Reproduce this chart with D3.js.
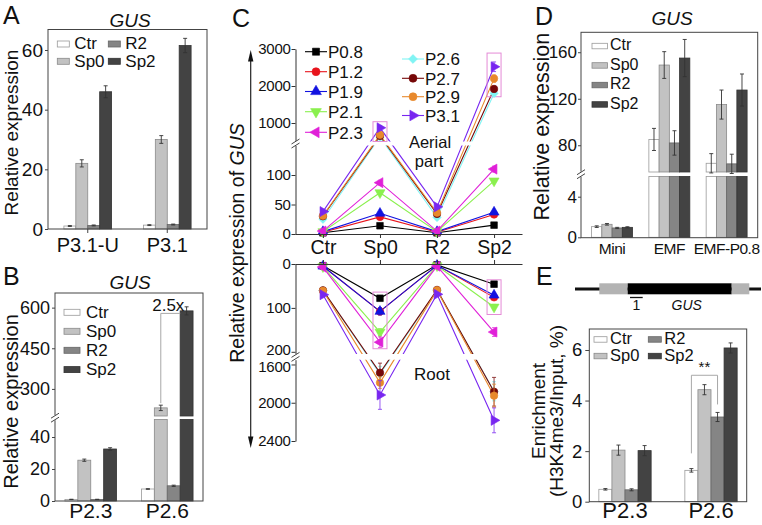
<!DOCTYPE html>
<html><head><meta charset="utf-8">
<script src="https://cdn.jsdelivr.net/npm/d3@7"></script>
<style>body{margin:0;background:#fff}svg{display:block}</style>
</head><body>
<svg id="c" width="762" height="525"></svg>
<script>
// ---------------- DATA ----------------
const series4 = ["Ctr", "Sp0", "R2", "Sp2"];
// Panel A
const aGroups = ["P3.1-U", "P3.1"];
const aValues = [[1.0, 22, 1.2, 46], [1.3, 30, 1.5, 61.5]];
const aErrors = [[0.15, 1.2, 0.15, 2.0], [0.15, 1.3, 0.15, 2.4]];
const aTicks = [0, 20, 40, 60];
// Panel B
const bGroups = ["P2.3", "P2.6"];
const bValues = [[1.0, 25.5, 1.0, 32.5], [7.5, 230, 9.5, 588]];
const bErrors = [[0.1, 0.7, 0.1, 0.8], [0.2, 10, 0.4, 15]];
const bTicksLow = [0, 20, 40];
const bTicksHigh = [300, 450, 600];
const bFold = "2.5x";
// Panel C
const cCats = ["Ctr", "Sp0", "R2", "Sp2"];
const cSeries = ["P0.8", "P1.2", "P1.9", "P2.1", "P2.3", "P2.6", "P2.7", "P2.9", "P3.1"];
const cAerial = [
  [2, 14, 2, 15], [3, 29, 3, 33], [4, 35, 4, 37], [4, 70, 4, 90], [5, 87, 5, 110],
  [25, 620, 28, 1800], [30, 650, 34, 1920], [31, 680, 36, 2200], [38, 870, 46, 2520]];
const cAerialErr = [
  [0.3, 1, 0.3, 1.2], [0.4, 2, 0.3, 2], [0.5, 2.5, 0.4, 2.5], [0.5, 3, 0.4, 3], [0.6, 4, 0.5, 5],
  [2, 40, 2, 80], [2, 40, 2, 80], [2, 45, 2, 100], [2, 60, 3, 130]];
const cRoot = [
  [4, 78, 2, 46], [5, 108, 3, 76], [5, 108, 3, 71], [6, 155, 4, 98], [7, 178, 5, 155],
  [60, 1700, 60, 1880], [60, 1686, 59, 1885], [61, 1790, 60, 1926], [70, 1919, 69, 2184]];
const cRootErr = [
  [0.5, 4, 0.3, 3], [0.5, 8, 0.4, 5], [0.5, 8, 0.4, 5], [0.6, 8, 0.5, 6], [0.8, 12, 0.6, 10],
  [3, 80, 3, 100], [3, 100, 3, 150], [3, 60, 3, 120], [3, 150, 3, 130]];
const cAerialTicksLow = [0, 50, 100];
const cAerialTicksHigh = [1000, 2000, 3000];
const cRootTicksLow = [0, 100, 200];
const cRootTicksHigh = [1600, 2000, 2400];
const cBoxes = [
  {part: "aerial", cat: "Sp0", lo: 500, hi: 1035},
  {part: "aerial", cat: "Sp2", lo: 1710, hi: 2890},
  {part: "root", cat: "Sp0", lo: 64, hi: 193},
  {part: "root", cat: "Sp2", lo: 36, hi: 115}];
// Panel D
const dGroups = ["Mini", "EMF", "EMF-P0.8"];
const dValues = [[1.05, 1.28, 0.92, 0.98], [85, 149, 82, 155], [64.5, 115, 64, 127.5]];
const dErrors = [[0.08, 0.08, 0.06, 0.06], [9.5, 11.5, 10.5, 16], [8.3, 12.5, 8.3, 13.8]];
const dTicksLow = [0, 4];
const dTicksHigh = [80, 120, 160];
// Panel E
const eGroups = ["P2.3", "P2.6"];
const eValues = [[0.49, 2.04, 0.47, 2.02], [1.24, 4.43, 3.35, 6.08]];
const eErrors = [[0.03, 0.2, 0.04, 0.2], [0.07, 0.2, 0.18, 0.2]];
const eTicks = [0, 2, 4, 6];
const eSig = {group: "P2.6", from: "Ctr", to: "R2", level: 5.0, label: "**"};

// ---------------- STYLE ----------------
const FONT = '"Liberation Sans", Arial, Helvetica, sans-serif';
const fmt = d3.format("d");
const barFill = {Ctr: "#ffffff", Sp0: "#c2c2c2", R2: "#858585", Sp2: "#434343"};
const barStroke = {Ctr: "#9a9a9a", Sp0: "#8a8a8a", R2: "#666", Sp2: "#333"};
const cColor = {"P0.8": "#000000", "P1.2": "#e8141c", "P1.9": "#1212e0", "P2.1": "#8af04e", "P2.3": "#e020d8",
  "P2.6": "#80f4f4", "P2.7": "#760808", "P2.9": "#e8892c", "P3.1": "#7826f0"};
const cSym = {"P0.8": [d3.symbolSquare, 0], "P1.2": [d3.symbolCircle, 0], "P1.9": [d3.symbolTriangle, 0],
  "P2.1": [d3.symbolTriangle, 180], "P2.3": [d3.symbolTriangle, -90], "P2.6": [d3.symbolDiamond2, 0],
  "P2.7": [d3.symbolCircle, 0], "P2.9": [d3.symbolCircle, 0], "P3.1": [d3.symbolTriangle, 90]};

const svg = d3.select("#c").attr("font-family", FONT);
svg.append("rect").attr("width", 762).attr("height", 525).attr("fill", "#fff");

function txt(g, x, y, s, size, anchor, extra) {
  const t = g.append("text").attr("x", x).attr("y", y).attr("font-size", size)
    .attr("text-anchor", anchor || "middle").attr("fill", "#111").text(s);
  if (extra) extra(t);
  return t;
}
function vtxt(g, x, y, s, size) {
  return g.append("text").attr("transform", `translate(${x},${y}) rotate(-90)`)
    .attr("font-size", size).attr("text-anchor", "middle").attr("fill", "#111").text(s);
}
function breakMark(g, x, y) {
  g.append("rect").attr("x", x - 5).attr("y", y - 2.5).attr("width", 10).attr("height", 5).attr("fill", "#fff");
  [-2, 2].forEach(o => g.append("line").attr("x1", x - 4).attr("y1", y + o + 2.5).attr("x2", x + 4).attr("y2", y + o - 2.5)
    .attr("stroke", "#444").attr("stroke-width", 1));
}
function brokenScale(segs) {
  const ss = segs.map(s => ({d: s.d, r: s.r, ticks: s.ticks, sc: d3.scaleLinear().domain(s.d).range(s.r)}));
  const f = v => { for (const s of ss) if (v <= s.d[1]) return s.sc(v); return ss[ss.length - 1].sc(v); };
  f.segs = ss;
  return f;
}

function barPanel(cfg) {
  const g = svg.append("g");
  const f = cfg.frame;
  const x0 = d3.scaleBand().domain(cfg.groups).range([f.l, f.r]).paddingInner(cfg.pi).paddingOuter(cfg.po);
  const x1 = d3.scaleBand().domain(series4).range([0, x0.bandwidth()]);
  const y = brokenScale(cfg.segs);
  cfg.groups.forEach((gr, gi) => series4.forEach((se, si) => {
    const v = cfg.values[gi][si];
    const bx = x0(gr) + x1(se), bw = x1.bandwidth();
    y.segs.forEach((s, k) => {
      if (k > 0 && v <= s.d[0]) return;
      const top = s.sc(Math.min(v, s.d[1])), bot = s.sc(s.d[0]);
      g.append("rect").attr("x", bx).attr("y", top).attr("width", bw).attr("height", Math.max(0, bot - top))
        .attr("fill", barFill[se]).attr("stroke", barStroke[se]).attr("stroke-width", 0.8);
    });
    const e = cfg.errors[gi][si];
    const cx = bx + bw / 2, yt = y(v + e), yb = y(v - e);
    const eg = g.append("g").attr("stroke", "#333").attr("stroke-width", 0.9);
    eg.append("line").attr("x1", cx).attr("x2", cx).attr("y1", yt).attr("y2", yb);
    eg.append("line").attr("x1", cx - 2).attr("x2", cx + 2).attr("y1", yt).attr("y2", yt);
    eg.append("line").attr("x1", cx - 2).attr("x2", cx + 2).attr("y1", yb).attr("y2", yb);
  }));
  g.append("rect").attr("x", f.l).attr("y", f.t).attr("width", f.r - f.l).attr("height", f.b - f.t)
    .attr("fill", "none").attr("stroke", "#444").attr("stroke-width", 1);
  y.segs.forEach(s => {
    const ax = g.append("g").attr("transform", `translate(${f.l},0)`)
      .call(d3.axisLeft(s.sc).tickValues(s.ticks).tickFormat(fmt).tickSize(cfg.tickSize).tickPadding(cfg.tickPad).tickSizeOuter(0));
    ax.attr("font-family", FONT).attr("font-size", cfg.tickFont);
    ax.select(".domain").remove();
    ax.selectAll("text").attr("fill", "#111");
    ax.selectAll("line").attr("stroke", "#444");
  });
  if (y.segs.length > 1) breakMark(g, f.l, (y.segs[0].r[1] + y.segs[1].r[0]) / 2);
  const xa = g.append("g").attr("transform", `translate(0,${f.b})`)
    .call(d3.axisBottom(x0).tickSize(cfg.xTickSize).tickPadding(cfg.xTickPad).tickSizeOuter(0));
  xa.attr("font-family", FONT).attr("font-size", cfg.xFont);
  xa.select(".domain").remove();
  xa.selectAll("text").attr("fill", "#111").style("letter-spacing", (cfg.xSpacing || 0) + "px");
  xa.selectAll("line").attr("stroke", "#444");
  series4.forEach((se, i) => {
    const p = cfg.legend.pos[i];
    g.append("rect").attr("x", p[0]).attr("y", p[1]).attr("width", cfg.legend.w).attr("height", cfg.legend.h)
      .attr("fill", barFill[se]).attr("stroke", barStroke[se]).attr("stroke-width", 0.8);
    txt(g, p[0] + cfg.legend.dx, p[1] + cfg.legend.dy, se, cfg.legend.font, "start");
  });
  if (cfg.title) txt(g, cfg.title[0], cfg.title[1], "GUS", cfg.title[2], "middle", t => t.attr("font-style", "italic"));
  txt(g, cfg.letter[0], cfg.letter[1], cfg.letter[2], cfg.letter[3], "start");
  return {g, x0, x1, y};
}

// ---------------- PANEL A ----------------
barPanel({
  frame: {l: 48, r: 207, t: 29.5, b: 229}, groups: aGroups, values: aValues, errors: aErrors,
  pi: 0.4, po: 0.2, segs: [{d: [0, 67], r: [229, 29.1], ticks: aTicks}],
  tickSize: 3, tickPad: 2, tickFont: 19, xTickSize: 4, xTickPad: 4.5, xFont: 20,
  legend: {pos: [[57.3, 41], [57.3, 58.3], [108.3, 41], [108.3, 58.3]], w: 12, h: 6, dx: 17, dy: 8.4, font: 17},
  title: [130, 26.5, 19], letter: [3, 23.5, "A", 25]
});
vtxt(svg, 17.5, 132.5, "Relative expression", 19);

// ---------------- PANEL B ----------------
const B = barPanel({
  frame: {l: 55, r: 203, t: 293, b: 501}, groups: bGroups, values: bValues, errors: bErrors,
  pi: 0.325, po: 0.13,
  segs: [{d: [0, 51], r: [501, 419.4], ticks: bTicksLow}, {d: [200, 654], r: [416, 293], ticks: bTicksHigh}],
  tickSize: 3, tickPad: 2, tickFont: 18, xTickSize: 0, xTickPad: 2.5, xFont: 21,
  legend: {pos: [[64, 309.3], [64, 328.3], [64, 347.3], [64, 366.6]], w: 16, h: 6, dx: 22, dy: 8.2, font: 17},
  title: [130, 289.3, 19], letter: [3, 285, "B", 25]
});
vtxt(svg, 18, 401.5, "Relative expression", 20);
{
  const gi = 1;
  const sx = B.x0(bGroups[gi]) + B.x1("Sp0") + B.x1.bandwidth() / 2;
  const ex = B.x0(bGroups[gi]) + B.x1("Sp2");
  const ytop = B.y(bValues[gi][3]) + 2.5;
  const ybot = B.y(bValues[gi][1] + bErrors[gi][1]) - 2;
  B.g.append("path").attr("d", `M${sx},${ybot}V${ytop}H${ex}`).attr("fill", "none")
    .attr("stroke", "#a8a8a8").attr("stroke-width", 1);
  txt(B.g, 168.3, ytop - 2.5, bFold, 17);
}

// ---------------- PANEL C ----------------
const gC = svg.append("g");
const cx = d3.scalePoint().domain(cCats).range([295, 522]).padding(0.49);
const yAer = brokenScale([{d: [0, 150], r: [234, 145.5], ticks: cAerialTicksLow}, {d: [500, 3000], r: [141.5, 49], ticks: cAerialTicksHigh}]);
const yRoot = brokenScale([{d: [0, 205], r: [264, 354], ticks: cRootTicksLow}, {d: [1550, 2400], r: [359.7, 441], ticks: cRootTicksHigh}]);
const line = y => d3.line().x((d, i) => cx(cCats[i])).y(d => y(d));

[[cAerial, yAer], [cRoot, yRoot]].forEach(([data, y]) => {
  data.forEach((vals, k) => {
    gC.append("path").attr("d", line(y)(vals)).attr("fill", "none")
      .attr("stroke", cColor[cSeries[k]]).attr("stroke-width", 1.1);
  });
});
[yAer, yRoot].forEach(y => {
  const top = Math.min(y.segs[0].r[1], y.segs[1].r[0]), bot = Math.max(y.segs[0].r[1], y.segs[1].r[0]);
  gC.append("rect").attr("x", 298).attr("y", top).attr("width", 224).attr("height", bot - top).attr("fill", "#fff");
});
cBoxes.forEach(b => {
  const y = b.part === "aerial" ? yAer : yRoot;
  const y1 = y(b.lo), y2 = y(b.hi);
  gC.append("rect").attr("x", cx(b.cat) - 7).attr("y", Math.min(y1, y2)).attr("width", 14)
    .attr("height", Math.abs(y2 - y1)).attr("fill", "none").attr("stroke", "#e48ad6").attr("stroke-width", 1);
});
function marker(g, name, x, y, size) {
  const [type, rot] = cSym[name];
  g.append("path").attr("d", d3.symbol().type(type).size(size || 44)())
    .attr("transform", `translate(${x},${y}) rotate(${rot})`)
    .attr("fill", cColor[name]).attr("stroke", cColor[name]).attr("stroke-width", 0.6);
}
[[cAerial, cAerialErr, yAer], [cRoot, cRootErr, yRoot]].forEach(([data, err, y]) => {
  data.forEach((vals, k) => {
    const name = cSeries[k];
    vals.forEach((v, i) => {
      const e = err[k][i], x = cx(cCats[i]);
      const yt = y(v + e), yb = y(v - e);
      const eg = gC.append("g").attr("stroke", cColor[name]).attr("stroke-width", 0.9).attr("opacity", 0.85);
      eg.append("line").attr("x1", x).attr("x2", x).attr("y1", yt).attr("y2", yb);
      eg.append("line").attr("x1", x - 2).attr("x2", x + 2).attr("y1", yt).attr("y2", yt);
      eg.append("line").attr("x1", x - 2).attr("x2", x + 2).attr("y1", yb).attr("y2", yb);
      marker(gC, name, x, y(v));
    });
  });
});
function styleAxis(ax, size) {
  ax.attr("font-family", FONT).attr("font-size", size);
  ax.selectAll("text").attr("fill", "#111");
  ax.selectAll("line").attr("stroke", "#333");
  ax.select(".domain").attr("stroke", "#333");
}
const axA = gC.append("g").attr("transform", "translate(0,234)")
  .call(d3.axisBottom(cx).tickSize(4).tickPadding(2).tickSizeOuter(0));
styleAxis(axA, 19.5);
const axR = gC.append("g").attr("transform", "translate(0,264)")
  .call(d3.axisTop(cx).tickSize(4).tickFormat("").tickSizeOuter(0));
styleAxis(axR, 16);
[yAer, yRoot].forEach(y => {
  y.segs.forEach((s, k) => {
    const ax = gC.append("g").attr("transform", "translate(295.5,0)")
      .call(d3.axisLeft(s.sc).tickValues(s.ticks).tickFormat(fmt).tickSize(4).tickPadding(1).tickSizeOuter(0));
    styleAxis(ax, 15);
    ax.selectAll("text").style("letter-spacing", "-0.3px");
    // nudge the labels next to the break apart slightly
    if (y === yRoot) ax.selectAll("text").filter(d => d === 200 || d === 1600)
      .attr("y", d => d === 200 ? -2.5 : 2.5);
  });
  breakMark(gC, 295.5, (y.segs[0].r[1] + y.segs[1].r[0]) / 2);
});
gC.append("line").attr("x1", 250.7).attr("x2", 250.7).attr("y1", 58).attr("y2", 440).attr("stroke", "#222").attr("stroke-width", 1.2);
gC.append("path").attr("d", "M250.7,50L253.4,61.5L248,61.5Z").attr("fill", "#111");
gC.append("path").attr("d", "M250.7,448L253.4,436.5L248,436.5Z").attr("fill", "#111");
{
  const t = gC.append("text").attr("transform", "translate(243.5,243) rotate(-90)")
    .attr("font-size", 19.5).attr("text-anchor", "middle").attr("fill", "#111");
  t.append("tspan").text("Relative expression of ");
  t.append("tspan").attr("font-style", "italic").text("GUS");
}
txt(gC, 430, 148, "Aerial", 16.5);
txt(gC, 429, 166.5, "part", 16.5);
txt(gC, 432, 380, "Root", 17);
const cLegPos = [[305, 51.7], [305, 71.7], [305, 91.5], [305, 111.7], [305, 132.3],
  [402, 59], [402, 78.3], [402, 96.7], [402, 115.5]];
cSeries.forEach((s, i) => {
  const [lx, ly] = cLegPos[i];
  gC.append("line").attr("x1", lx).attr("x2", lx + 22).attr("y1", ly).attr("y2", ly)
    .attr("stroke", cColor[s]).attr("stroke-width", 1.1);
  marker(gC, s, lx + 11, ly, 50);
  txt(gC, lx + 23, ly + 6.2, s, 17, "start");
});
txt(gC, 232, 27, "C", 25, "start");

// ---------------- PANEL D ----------------
barPanel({
  frame: {l: 581, r: 757.7, t: 32.3, b: 237.7}, groups: dGroups, values: dValues, errors: dErrors,
  pi: 0.285, po: 0.185,
  segs: [{d: [0, 6], r: [237.3, 176.4], ticks: dTicksLow}, {d: [57, 177.5], r: [172, 31.9], ticks: dTicksHigh}],
  tickSize: 3, tickPad: 1, tickFont: 17, xTickSize: 0, xTickPad: 5, xFont: 15.5, xSpacing: -0.5,
  legend: {pos: [[592, 43.3], [592, 62.7], [592, 82.3], [592, 101.7]], w: 15.5, h: 5.5, dx: 18, dy: 6.8, font: 16},
  title: [672, 25, 19], letter: [535, 25, "D", 25]
});
vtxt(svg, 548.5, 126.7, "Relative expression", 21.5);

// ---------------- PANEL E ----------------
const E = barPanel({
  frame: {l: 589.3, r: 746.7, t: 329, b: 501.7}, groups: eGroups, values: eValues, errors: eErrors,
  pi: 0.392, po: 0.111,
  segs: [{d: [0, 6.83], r: [501.7, 329], ticks: eTicks}],
  tickSize: 4, tickPad: 3, tickFont: 18.5, xTickSize: 0, xTickPad: 1, xFont: 22,
  legend: {pos: [[594, 336.7], [594, 353.3], [648.3, 336.7], [648.3, 353.3]], w: 13, h: 5.5, dx: 16, dy: 7.6, font: 16.5},
  title: null, letter: [536, 285, "E", 25]
});
svg.append("text").attr("transform", "translate(545,411) rotate(-90)").attr("font-size", 19)
  .attr("text-anchor", "middle").attr("fill", "#111").text("Enrichment");
svg.append("text").attr("transform", "translate(563,411) rotate(-90)").attr("font-size", 19)
  .attr("text-anchor", "middle").attr("fill", "#111").text("(H3K4me3/Input, %)");
{
  const gi = eGroups.indexOf(eSig.group);
  const xa = E.x0(eSig.group) + E.x1(eSig.from) + E.x1.bandwidth() / 2;
  const xb = E.x0(eSig.group) + E.x1(eSig.to) + E.x1.bandwidth() / 2;
  const ya = E.y(eValues[gi][0]) - 17, yb = E.y(eValues[gi][2] + eErrors[gi][2]) - 8;
  const yl = E.y(eSig.level);
  E.g.append("path").attr("d", `M${xa},${ya}V${yl}H${xb}V${yb}`).attr("fill", "none")
    .attr("stroke", "#a8a8a8").attr("stroke-width", 1);
  txt(E.g, (xa + xb) / 2, yl - 3, eSig.label, 15);
}
{
  const g = svg.append("g");
  g.append("line").attr("x1", 575).attr("x2", 761).attr("y1", 289).attr("y2", 289).attr("stroke", "#111").attr("stroke-width", 3);
  g.append("rect").attr("x", 599.3).attr("y", 283.3).attr("width", 28.4).attr("height", 11).attr("fill", "#b3b3b3");
  g.append("rect").attr("x", 627.7).attr("y", 283.3).attr("width", 104).attr("height", 11).attr("fill", "#000");
  g.append("rect").attr("x", 731.7).attr("y", 283.3).attr("width", 17.6).attr("height", 11).attr("fill", "#b3b3b3");
  g.append("line").attr("x1", 630).attr("x2", 642.7).attr("y1", 297.5).attr("y2", 297.5).attr("stroke", "#111").attr("stroke-width", 1.3);
  txt(g, 636.3, 310, "1", 14);
  txt(g, 686.7, 310, "GUS", 14, "middle", t => t.attr("font-style", "italic"));
}
</script>
</body></html>
